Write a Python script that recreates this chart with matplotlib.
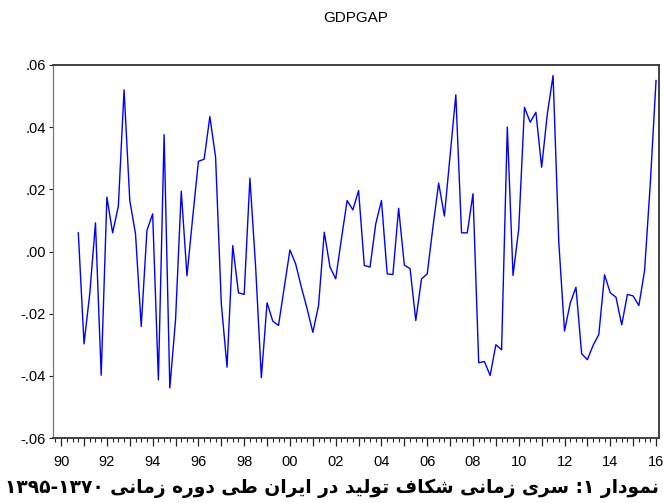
"""GDPGAP quarterly line chart (EViews look) with Persian caption."""
import numpy as np
import matplotlib
matplotlib.use("Agg")
import matplotlib.pyplot as plt
from matplotlib.ticker import FixedLocator, FuncFormatter

BLUE, FRAME = "#0000ff", "#333333"

# quarterly output gap, first obs 1990Q4
start = 1990.75
gdpgap = [
    0.0060, -0.0297, -0.0136, 0.0092, -0.0398, 0.0175, 0.0060, 0.0146, 0.0520, 0.0164,
    0.0057, -0.0241, 0.0068, 0.0121, -0.0413, 0.0376, -0.0439, -0.0220, 0.0194, -0.0078,
    0.0110, 0.0290, 0.0297, 0.0434, 0.0303, -0.0168, -0.0372, 0.0019, -0.0133, -0.0138,
    0.0236, -0.0050, -0.0406, -0.0165, -0.0224, -0.0238, -0.0116, 0.0005, -0.0040, -0.0115,
    -0.0184, -0.0260, -0.0174, 0.0062, -0.0050, -0.0088, 0.0041, 0.0164, 0.0134, 0.0196,
    -0.0045, -0.0050, 0.0089, 0.0164, -0.0072, -0.0074, 0.0139, -0.0044, -0.0055, -0.0222,
    -0.0088, -0.0072, 0.0079, 0.0220, 0.0114, 0.0309, 0.0504, 0.0060, 0.0060, 0.0186,
    -0.0358, -0.0354, -0.0399, -0.0300, -0.0316, 0.0400, -0.0077, 0.0073, 0.0464, 0.0416,
    0.0448, 0.0271, 0.0443, 0.0566, 0.0030, -0.0256, -0.0166, -0.0115, -0.0329, -0.0348,
    -0.0302, -0.0267, -0.0075, -0.0133, -0.0147, -0.0236, -0.0138, -0.0143, -0.0174, -0.0061,
    0.0220, 0.0550,
]
years = list(range(1990, 2017))
y_ticks = [-0.06, -0.04, -0.02, 0.00, 0.02, 0.04, 0.06]
y_labels = ["-.06", "-.04", "-.02", ".00", ".02", ".04", ".06"]
caption_words = ["نمودار", "۱:", "سری", "زمانی", "شکاف", "تولید", "در", "ایران", "طی", "دوره", "زمانی"]
caption_years = "۱۳۹۵-۱۳۷۰"

# --- minimal Persian shaping (matplotlib has no bidi / joining) ---
# isolated, final, initial, medial
FORMS = {
    "ا": ("\uFE8D", "\uFE8E", None, None), "د": ("\uFEA9", "\uFEAA", None, None),
    "ر": ("\uFEAD", "\uFEAE", None, None), "ز": ("\uFEAF", "\uFEB0", None, None),
    "و": ("\uFEED", "\uFEEE", None, None),
    "ب": ("\uFE8F", "\uFE90", "\uFE91", "\uFE92"), "ت": ("\uFE95", "\uFE96", "\uFE97", "\uFE98"),
    "س": ("\uFEB1", "\uFEB2", "\uFEB3", "\uFEB4"), "ش": ("\uFEB5", "\uFEB6", "\uFEB7", "\uFEB8"),
    "ط": ("\uFEC1", "\uFEC2", "\uFEC3", "\uFEC4"), "ف": ("\uFED1", "\uFED2", "\uFED3", "\uFED4"),
    "ک": ("\uFED9", "\uFEDA", "\uFEDB", "\uFEDC"), "ل": ("\uFEDD", "\uFEDE", "\uFEDF", "\uFEE0"),
    "م": ("\uFEE1", "\uFEE2", "\uFEE3", "\uFEE4"), "ن": ("\uFEE5", "\uFEE6", "\uFEE7", "\uFEE8"),
    "ه": ("\uFEE9", "\uFEEA", "\uFEEB", "\uFEEC"), "ی": ("\uFEEF", "\uFEF0", "\uFEF3", "\uFEF4"),
}


def shape(word):
    out = []
    for i, c in enumerate(word):
        if c not in FORMS:
            out.append(c)
            continue
        f = FORMS[c]
        prev = i > 0 and word[i - 1] in FORMS and FORMS[word[i - 1]][2] is not None
        nxt = f[2] is not None and i + 1 < len(word) and word[i + 1] in FORMS
        out.append(f[3] if prev and nxt else f[1] if prev else f[2] if nxt else f[0])
    return "".join(out)


def visual(words, number):
    parts = []
    for w in reversed(words):
        if w[0] in FORMS:
            parts.append(shape(w)[::-1])
        else:  # digit + colon: colon sits left of the digit in rtl
            parts.append(w[::-1])
    return number + " " + " ".join(parts)


plt.rcParams.update({"font.family": ["Liberation Sans", "DejaVu Sans"], "font.size": 10.5})
fig = plt.figure(figsize=(6.63, 5.03), dpi=100, facecolor="white")
ax = fig.add_axes([53 / 663, 1 - 438 / 503, 606 / 663, 373 / 503])

x = start + 0.25 * np.arange(len(gdpgap))
ax.plot(x, gdpgap, color=BLUE, lw=1.0)

ax.set_xlim(1989.644, 2016.13)
ax.set_ylim(-0.06, 0.06)
ax.set_yticks(y_ticks)
ax.set_yticklabels(y_labels)
ax.xaxis.set_major_locator(FixedLocator(years))
ax.xaxis.set_major_formatter(FuncFormatter(lambda v, p: f"{int(round(v)) % 100:02d}" if round(v) % 2 == 0 else ""))
ax.xaxis.set_minor_locator(FixedLocator(np.arange(1989.75, 2016.2, 0.25)))
ax.tick_params(axis="x", which="major", length=6, width=0.9, color="#222222", pad=6)
ax.tick_params(axis="x", which="minor", length=3, width=0.8, color="#222222")
ax.tick_params(axis="y", length=3, width=0.8, color="#222222", pad=2)
for s in ax.spines.values():
    s.set_color(FRAME)
    s.set_linewidth(1.3)
ax.spines["left"].set_color("#777777")
ax.spines["left"].set_linewidth(0.9)

fig.text(356 / 663, 1 - 18 / 503, "GDPGAP", ha="center", va="center", fontsize=11)

cap = fig.text(332 / 663, 1 - 488 / 503, visual(caption_words, caption_years),
               ha="center", va="center", fontsize=15, fontweight="bold",
               family=["DejaVu Sans"])
fig.canvas.draw()
w = cap.get_window_extent().width
cap.set_fontsize(15 * 655 / w)

fig.savefig("out.png", dpi=100, facecolor="white")
